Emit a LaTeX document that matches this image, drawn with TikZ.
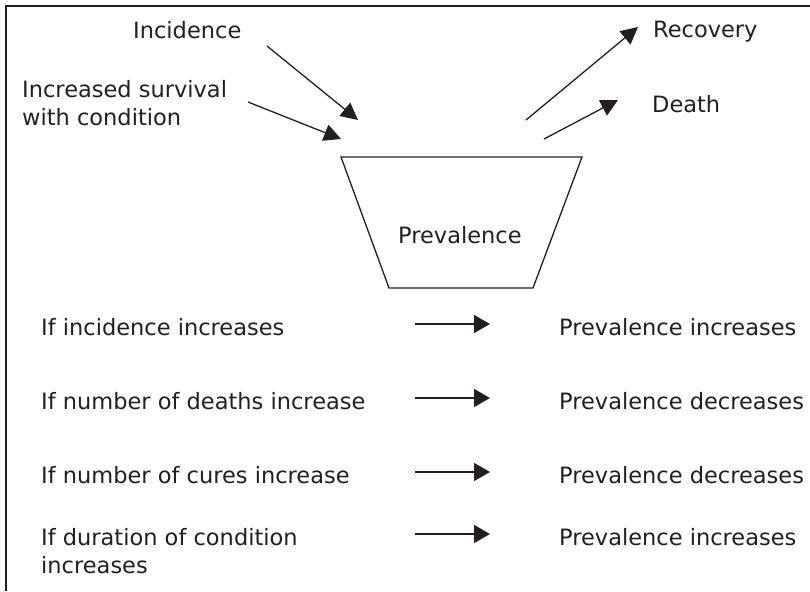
\documentclass[tikz,border=0pt]{standalone}
\usepackage{fontspec}
\setmainfont{DejaVu Sans}
\usetikzlibrary{arrows.meta}
\definecolor{ink}{HTML}{231F20}
\begin{document}
\begin{tikzpicture}[x=1pt,y=-1pt,
  txt/.style={inner sep=0pt, anchor=base west, text=ink,
    font=\fontsize{22.5}{28}\selectfont},
  flow/.style={draw=ink, line width=1.3pt,
    -{Triangle[length=17pt,width=17pt]}},
  rowarrow/.style={draw=ink, line width=1.6pt,
    -{Triangle[length=16pt,width=18pt]}},
  frame/.style={draw=ink, line width=2.6pt},
  funnel/.style={draw=ink, line width=1.3pt}]
  \useasboundingbox (0,0) rectangle (810,591);

  % open frame (top and left edges)
  \coordinate (fl) at (6,591);
  \coordinate (fc) at (6,6);
  \coordinate (fr) at (810,6);
  \draw[frame] (fl) -- (fc) -- (fr);

  % funnel
  \coordinate (tl) at (341,157);
  \coordinate (tr) at (582,157);
  \coordinate (br) at (533,288);
  \coordinate (bl) at (389,288);
  \draw[funnel] (tl) -- (tr) -- (br) -- (bl) -- cycle;
  \node[txt] (prev) at (398,243) {Prevalence};

  % inflows
  \node[txt] (inc) at (133,39) {Incidence};
  \node[txt, anchor=north west, align=left] (surv) at (22,80)
    {Increased survival\\with condition};
  \coordinate (incA) at (267,46);
  \coordinate (incB) at (358,120);
  \coordinate (survA) at (248,102);
  \coordinate (survB) at (341,139);
  \draw[flow] (incA) -- (incB);
  \draw[flow] (survA) -- (survB);

  % outflows
  \node[txt] (rec) at (653,38) {Recovery};
  \node[txt] (death) at (652,113) {Death};
  \coordinate (recA) at (526,120);
  \coordinate (recB) at (638,27);
  \coordinate (deathA) at (544,139);
  \coordinate (deathB) at (618,100);
  \draw[flow] (recA) -- (recB);
  \draw[flow] (deathA) -- (deathB);

  % consequences
  \node[txt] (c1) at (41,335) {If incidence increases};
  \node[txt] (c2) at (41,409) {If number of deaths increase};
  \node[txt] (c3) at (41,483) {If number of cures increase};
  \node[txt, anchor=north west, align=left] (c4) at (41,528)
    {If duration of condition\\increases};

  \node[txt] (r1) at (559,335) {Prevalence increases};
  \node[txt] (r2) at (559,409) {Prevalence decreases};
  \node[txt] (r3) at (559,483) {Prevalence decreases};
  \node[txt] (r4) at (559,545) {Prevalence increases};

  \foreach \y/\n in {324/1, 398/2, 472/3, 534/4}{
    \coordinate (a\n) at (415,\y);
    \coordinate (b\n) at (490,\y);
    \draw[rowarrow] (a\n) -- (b\n);
  }
\end{tikzpicture}
\end{document}
